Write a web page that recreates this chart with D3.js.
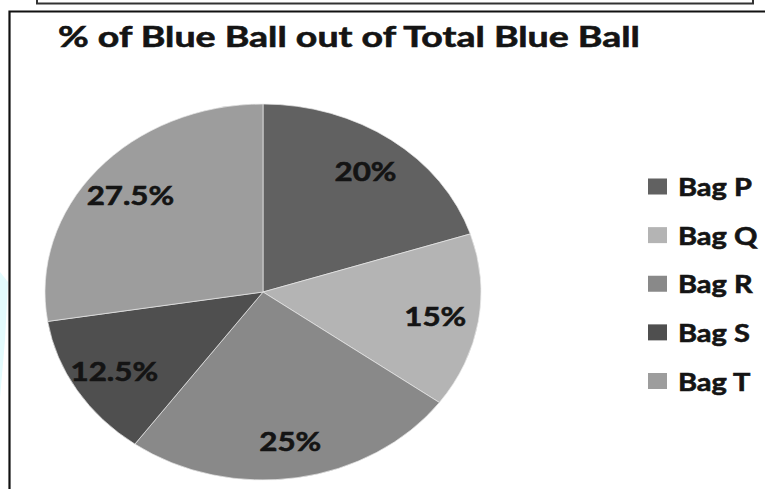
<!DOCTYPE html>
<html>
<head>
<meta charset="utf-8">
<script src="https://cdn.jsdelivr.net/npm/d3@7/dist/d3.min.js"></script>
<style>
  html, body { margin: 0; padding: 0; background: #fff; }
  svg { display: block; }
  text { font-family: Lato, "Open Sans", sans-serif; font-weight: 700; fill: #141414;
         stroke: #141414; stroke-width: 0.6; }
</style>
</head>
<body>
<svg id="chart" width="765" height="489"></svg>
<script>
// Share of blue balls held in each bag
const bags = ["Bag P", "Bag Q", "Bag R", "Bag S", "Bag T"];
const shares = [20, 15, 25, 12.5, 27.5];
const shareLabels = ["20%", "15%", "25%", "12.5%", "27.5%"];
const sliceColors = ["#616161", "#b4b4b4", "#898989", "#4f4f4f", "#9d9d9d"];
const title = "% of Blue Ball out of Total Blue Ball";

const svg = d3.select("#chart");
const W = 765, H = 489;

// faint cyan streak at the left margin
svg.append("polygon")
  .attr("points", "0,272 8,282 5,340 0,398")
  .attr("fill", "#e3fbfd");

// outer frames
svg.append("rect")
  .attr("x", 37).attr("y", -20).attr("width", 716).attr("height", 23.5)
  .attr("fill", "none").attr("stroke", "#333").attr("stroke-width", 2);
svg.append("path")
  .attr("d", `M9.5,${H} L9.5,11.5 L${W},11.5`)
  .attr("fill", "none").attr("stroke", "#111").attr("stroke-width", 2.2);

// horizontal stretch applied to the whole drawing
const cx = 263, cy = 292, ry = 188, rx = 218;
const sx = rx / ry;

function stretchedText(sel, x, y, anchor, k = sx) {
  return sel.attr("transform", `translate(${x},${y}) scale(${k},1)`)
    .attr("text-anchor", anchor);
}

// title, fitted to its line
const titleText = svg.append("text").text(title).attr("font-size", 28.5);
const titleLen = titleText.node().getComputedTextLength();
stretchedText(titleText, 58, 47, "start", 582 / titleLen);

// pie
const pie = d3.pie().sort(null).value(d => d)(shares);
const arc = d3.arc().innerRadius(0).outerRadius(ry);
const g = svg.append("g").attr("transform", `translate(${cx},${cy}) scale(${sx},1)`);
g.selectAll("path.slice")
  .data(pie)
  .join("path")
  .attr("class", "slice")
  .attr("d", arc)
  .attr("fill", (d, i) => sliceColors[i])
  .attr("stroke", "#e8e8e8")
  .attr("stroke-opacity", 0.7)
  .attr("stroke-width", 1)
  .attr("vector-effect", "non-scaling-stroke");

// value labels
const labelArc = d3.arc().innerRadius(ry * 0.8).outerRadius(ry * 0.8);
pie.forEach((d, i) => {
  const [lx, ly] = labelArc.centroid(d);
  stretchedText(svg.append("text").text(shareLabels[i]).attr("font-size", 27)
      .attr("dominant-baseline", "central"),
    cx + lx * sx, cy + ly, "middle");
});

// legend
const legY = d3.scalePoint().domain(bags).range([186.5, 381]);
const leg = svg.append("g");
bags.forEach((b, i) => {
  const y = legY(b);
  leg.append("rect")
    .attr("x", 648).attr("y", y - 8).attr("width", 19).attr("height", 16)
    .attr("fill", sliceColors[i]);
  stretchedText(leg.append("text").text(b).attr("font-size", 25)
      .attr("dominant-baseline", "central"),
    678, y, "start");
});
</script>
</body>
</html>
